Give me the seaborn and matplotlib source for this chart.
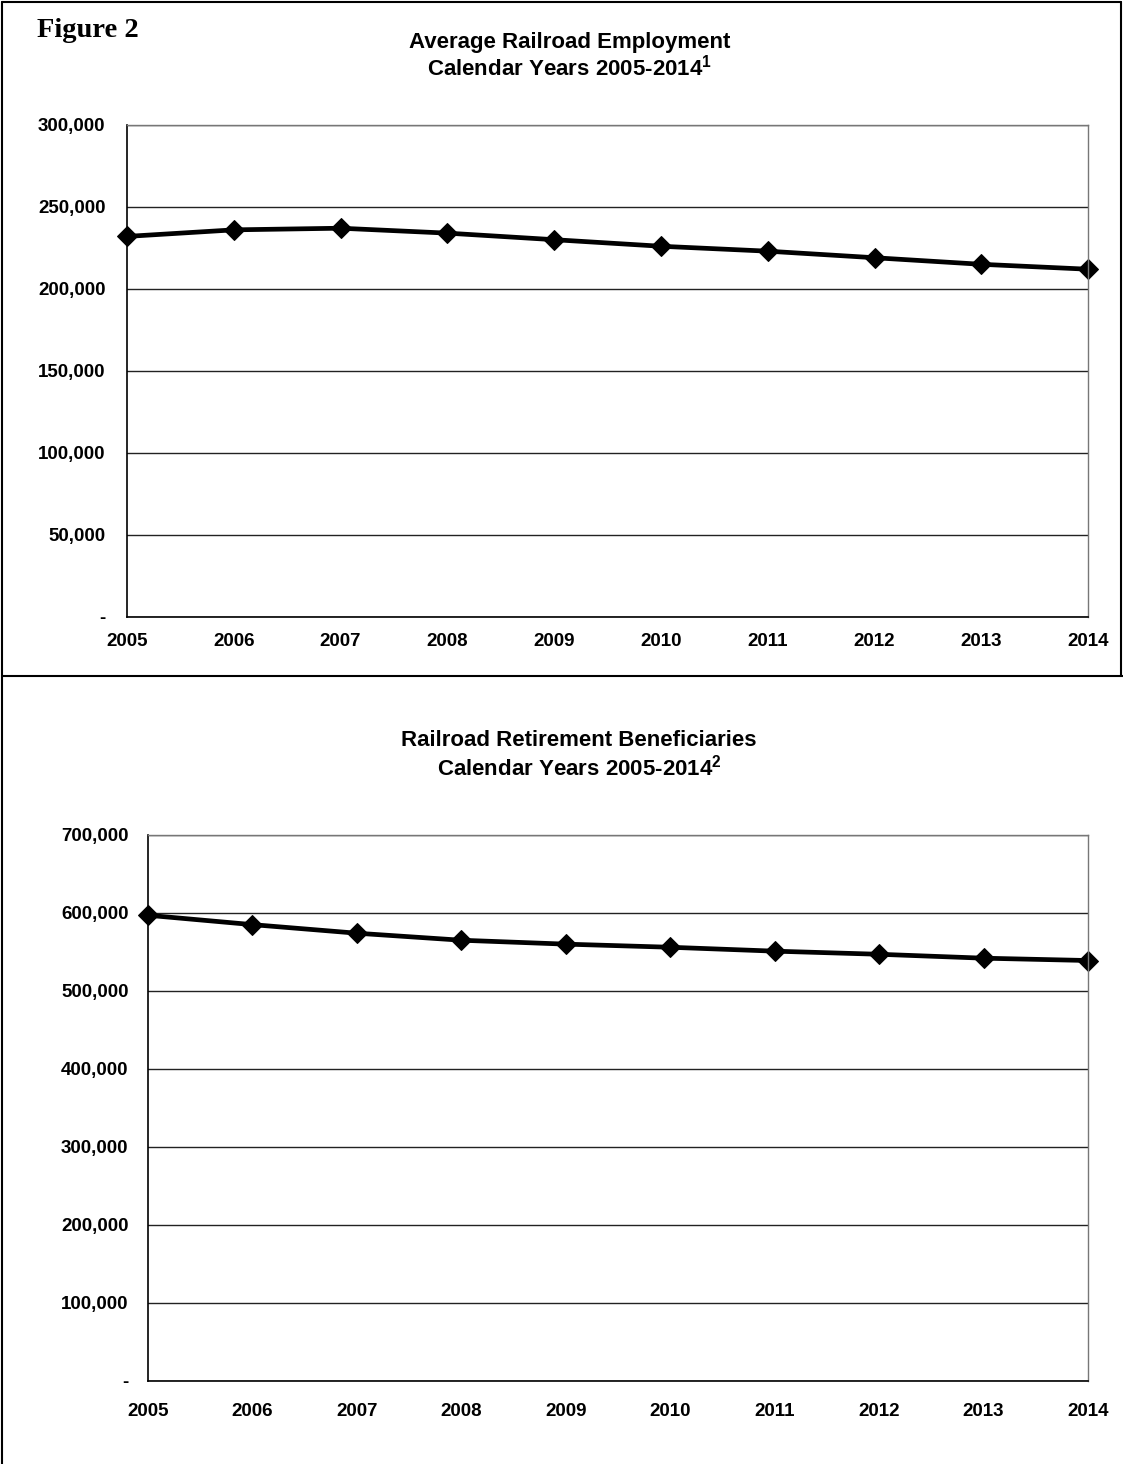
import matplotlib
matplotlib.use("Agg")
import matplotlib.pyplot as plt
import seaborn as sns
import pandas as pd
from matplotlib.lines import Line2D
from matplotlib.ticker import FuncFormatter

# Data
years = [2005, 2006, 2007, 2008, 2009, 2010, 2011, 2012, 2013, 2014]
employment = [232000, 236000, 237000, 234000, 230000, 226000, 223000, 219000, 215000, 212000]
beneficiaries = [597000, 585000, 574000, 565000, 560000, 556000, 551000, 547000, 542000, 539000]

emp_ticks = [0, 50000, 100000, 150000, 200000, 250000, 300000]
ben_ticks = [0, 100000, 200000, 300000, 400000, 500000, 600000, 700000]

sns.set_style("white")
plt.rcParams["font.family"] = ["Liberation Sans", "DejaVu Sans"]
plt.rcParams["font.weight"] = "bold"
plt.rcParams["text.color"] = "black"
plt.rcParams["xtick.color"] = "black"
plt.rcParams["ytick.color"] = "black"
plt.rcParams["mathtext.fontset"] = "custom"
plt.rcParams["mathtext.rm"] = "Liberation Sans:bold"
plt.rcParams["mathtext.it"] = "Liberation Sans:bold"
plt.rcParams["mathtext.bf"] = "Liberation Sans:bold"


def fmt(v, pos):
    return "-" if v == 0 else f"{int(v):,}"


def draw(ax, df, col, ticks, xpad, ypad):
    sns.lineplot(data=df, x="year", y=col, ax=ax, color="black", linewidth=3.4,
                 marker="D", markersize=10.5, markeredgecolor="black", clip_on=False)
    ax.set_xlim(years[0], years[-1])
    ax.set_ylim(ticks[0], ticks[-1])
    ax.set_yticks(ticks)
    ax.set_xticks(years)
    ax.yaxis.set_major_formatter(FuncFormatter(fmt))
    ax.set_xlabel("")
    ax.set_ylabel("")
    ax.grid(axis="y", color="#222222", linewidth=1)
    ax.set_axisbelow(True)
    for s in ["top", "right"]:
        ax.spines[s].set_color("#777777")
        ax.spines[s].set_linewidth(1)
    for s in ["left", "bottom"]:
        ax.spines[s].set_color("black")
        ax.spines[s].set_linewidth(1.2)
    ax.tick_params(axis="y", direction="out", length=5, width=1, color="black",
                   pad=ypad, labelsize=13.5, labelcolor="black")
    ax.tick_params(axis="x", direction="out", length=5, width=1, color="#555555",
                   pad=xpad, labelsize=13.5, labelcolor="black")
    for lab in ax.get_xticklabels() + ax.get_yticklabels():
        lab.set_fontweight("bold")


df = pd.DataFrame({"year": years, "employment": employment,
                   "beneficiaries": beneficiaries})

fig = plt.figure(figsize=(11.23, 14.64), dpi=100)

ax1 = fig.add_axes([0.1131, 0.5786, 0.8558, 0.3361])
draw(ax1, df, "employment", emp_ticks, xpad=6.5, ypad=10.5)

ax2 = fig.add_axes([0.1318, 0.0567, 0.8370, 0.3730])
draw(ax2, df, "beneficiaries", ben_ticks, xpad=11, ypad=9)

# titles
fig.text(0.033, 0.9795, "Figure 2", family=["Liberation Serif", "DejaVu Serif"],
         fontsize=20.5, fontweight="bold", ha="left", va="center")
fig.text(0.507, 0.9713, "Average Railroad Employment", fontsize=16,
         fontweight="bold", ha="center", va="center")
fig.text(0.507, 0.9536, r"Calendar Years 2005-2014$^{1}$", fontsize=16,
         fontweight="bold", ha="center", va="center")
fig.text(0.5156, 0.4945, "Railroad Retirement Beneficiaries", fontsize=16,
         fontweight="bold", ha="center", va="center")
fig.text(0.5156, 0.4754, r"Calendar Years 2005-2014$^{2}$", fontsize=16,
         fontweight="bold", ha="center", va="center")

# page frame
y_div = 1 - 676 / 1464
frame = [
    ([0.002, 0.998], [0.9985, 0.9985]),
    ([0.002, 0.002], [0.0, 0.9985]),
    ([0.998, 0.998], [y_div, 0.9985]),
    ([0.002, 1.0], [y_div, y_div]),
]
for xs, ys in frame:
    fig.add_artist(Line2D(xs, ys, color="black", linewidth=1.5,
                          transform=fig.transFigure))

fig.savefig("out.png", dpi=100)
